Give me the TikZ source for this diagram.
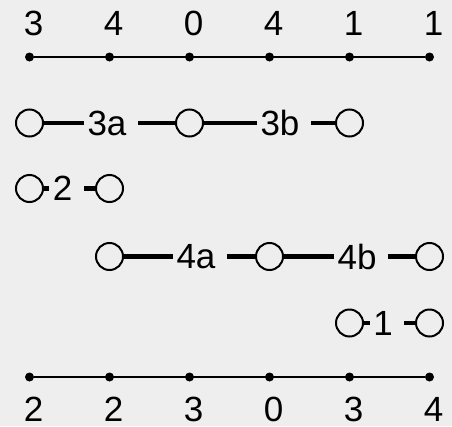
\documentclass[tikz,border=0pt]{standalone}
\usepackage{fontspec}
\setmainfont{Liberation Sans}
\begin{document}
\begin{tikzpicture}[x=1pt,y=-1pt,font=\fontsize{35}{40}\selectfont,
  ring/.style={circle,draw=ink,fill=bg,line width=2pt,minimum size=27pt,inner sep=0pt},
  bar/.style={ink,line width=4.8pt},
  seglabel/.style={text=ink,inner xsep=3.5pt,inner ysep=0pt},
  axislabel/.style={text=ink,inner sep=0pt},
  tick/.style={circle,fill=ink,inner sep=0pt,minimum size=9pt}]
  \definecolor{bg}{HTML}{EEEEEE}
  \definecolor{ink}{HTML}{000000}
  \fill[bg] (0,0) rectangle (452,426);
  \foreach \i/\top/\bot in {0/3/2,1/4/2,2/0/3,3/4/0,4/1/3,5/1/4}{
    \node[tick] (t\i) at ({29.5+80*\i},57) {};
    \node[tick] (b\i) at ({29.5+80*\i},377) {};
    \node[axislabel] (tl\i) at ({33.5+80*\i},23) {\top};
    \node[axislabel] (bl\i) at ({33.5+80*\i},409) {\bot};
  }
  \draw[ink,line width=2.2pt] (t0) -- (t5);
  \draw[ink,line width=2.2pt] (b0) -- (b5);
  \foreach \nm/\x/\y in {p1/29.5/123,p2/189.5/123,p3/349.5/123,
    q1/29.5/188.5,q2/109.5/188.5,
    r1/109.5/256.5,r2/269.5/256.5,r3/429.5/256.5,
    s1/349.5/323,s2/429.5/323}
    \node[ring] (\nm) at (\x,\y) {};
  \foreach \from/\to/\lab/\lx in {p1/p2/3a/111,p2/p3/3b/284,q1/q2/2/66.5,
    r1/r2/4a/200,r2/r3/4b/361,s1/s2/1/387}{
    \node[seglabel] (l\lab) at (\lx,0 |- \from) {\lab\kern8pt};
    \draw[bar] (\from) -- (l\lab.west) (l\lab.east) -- (\to);
  }
  \path[use as bounding box] (0,0) rectangle (452,426);
\end{tikzpicture}
\end{document}
